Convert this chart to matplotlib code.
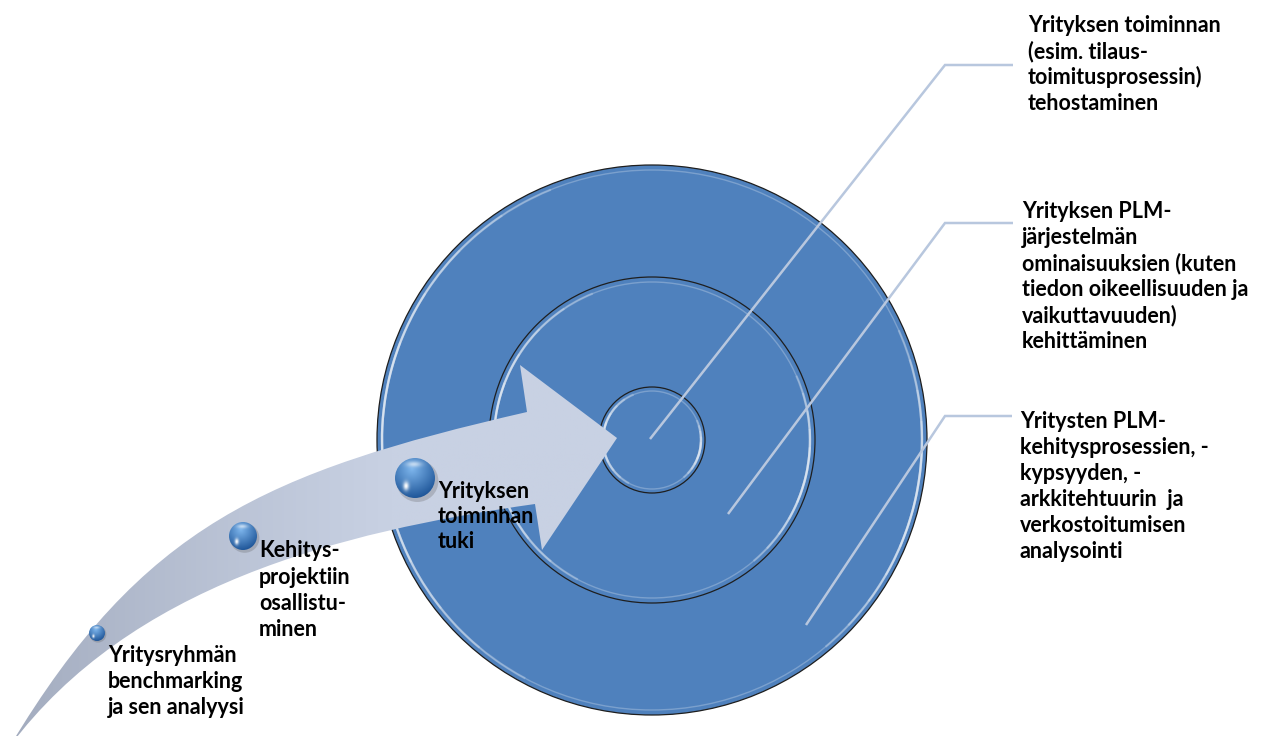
import numpy as np
import matplotlib
matplotlib.use("Agg")
import matplotlib.pyplot as plt
from matplotlib.path import Path
from matplotlib.patches import PathPatch, Circle, Arc
from matplotlib.colors import to_rgb

# ---- content ----
ring_labels = [
    ["Yrityksen toiminnan", "(esim. tilaus-", "toimitusprosessin)", "tehostaminen"],
    ["Yrityksen PLM-", "järjestelmän", "ominaisuuksien (kuten", "tiedon oikeellisuuden ja",
     "vaikuttavuuden)", "kehittäminen"],
    ["Yritysten PLM-", "kehitysprosessien, -", "kypsyyden, -", "arkkitehtuurin  ja",
     "verkostoitumisen", "analysointi"],
]
step_labels = [
    ["Yritysryhmän", "benchmarking", "ja sen analyysi"],
    ["Kehitys-", "projektiin", "osallistu-", "minen"],
    ["Yrityksen", "toiminhan", "tuki"],
]

# ---- layout (pixel coordinates, y downward) ----
W, H = 1261, 736
center = (652, 440)
ring_radii = [275, 163, 53]
leader_starts = [(650, 439), (728, 514), (806, 625)]
leader_bends = [(945, 65), (945, 223), (945, 416)]
leader_ends_x = [1013, 1013, 1012]
ring_text_x = [1028, 1022, 1020]
ring_text_y0 = [32, 218, 428]
ring_line_h = 26

bubble_xy = [(97, 633), (243, 536), (415, 478)]
bubble_r = [8, 14, 20]
step_text_x = [108, 259, 438]
step_text_y0 = [662, 557, 498]
step_line_h = [26, 26.5, 25]

BLUE = "#4F81BD"
LEADER = "#B8C7DE"
FONT = ["Lato", "DejaVu Sans"]

fig = plt.figure(figsize=(W / 100, H / 100), dpi=100)
ax = fig.add_axes([0, 0, 1, 1])
ax.set_xlim(0, W)
ax.set_ylim(H, 0)
ax.axis("off")

# ---- target rings ----
for r in ring_radii:
    ax.add_patch(Circle(center, r, facecolor=BLUE, edgecolor="#1E1E1E", lw=0.9, zorder=1))
    inset = 5 if r > 100 else 4
    rr = r - inset
    ax.add_patch(Circle(center, rr, facecolor="none", edgecolor="white",
                        lw=1.0, alpha=0.25, zorder=2))
    # bevel highlights with faded ends (visual angles, converted for inverted y)
    for (a1, a2) in [(112, 242), (-50, 24)]:
        span = a2 - a1
        for k in range(5):
            shrink = span * 0.09 * k
            ax.add_patch(Arc(center, 2 * rr, 2 * rr, theta1=-(a2 - shrink), theta2=-(a1 + shrink),
                             color="white", lw=1.7, alpha=0.22, zorder=2))

# ---- leader lines ----
for s, b, ex in zip(leader_starts, leader_bends, leader_ends_x):
    ax.plot([s[0], b[0], ex], [s[1], b[1], b[1]], color=LEADER, lw=1.8,
            solid_capstyle="butt", solid_joinstyle="miter", zorder=3)

# ---- curved arrow ----
up = [(10, 746), (142, 526), (266, 472), (527, 412)]
lo = [(10, 746), (130, 586), (337, 532), (535, 504)]
head = [(520, 365), (617, 438), (542, 550)]
verts = [up[0], up[1], up[2], up[3], head[0], head[1], head[2], lo[3], lo[2], lo[1], lo[0], up[0]]
codes = [Path.MOVETO, Path.CURVE4, Path.CURVE4, Path.CURVE4, Path.LINETO, Path.LINETO,
         Path.LINETO, Path.LINETO, Path.CURVE4, Path.CURVE4, Path.CURVE4, Path.CLOSEPOLY]
arrow_path = Path(verts, codes)
arrow_patch = PathPatch(arrow_path, facecolor="none", edgecolor="none", zorder=4)
ax.add_patch(arrow_patch)

c0 = np.array(to_rgb("#A0A9BC"))
c1 = np.array(to_rgb("#C8D1E3"))
xs = np.linspace(0, 1, 256)
t = np.clip(xs * 1.6, 0, 1) ** 0.8
grad = (c0[None, :] * (1 - t[:, None]) + c1[None, :] * t[:, None])[None, :, :]
grad = np.repeat(grad, 2, axis=0)
im = ax.imshow(grad, extent=(0, 625, 750, 355), origin="upper", aspect="auto",
               interpolation="bilinear", zorder=4)
im.set_clip_path(arrow_patch)

# ---- glossy bubbles ----
def sphere(cx, cy, r):
    n = 80
    u = np.linspace(-1, 1, n)
    X, Y = np.meshgrid(u, u)
    light = np.array(to_rgb("#7DB5EC"))
    dark = np.array(to_rgb("#1D5497"))
    d = np.sqrt((X + 0.15) ** 2 + (Y + 0.45) ** 2) / 1.5
    d = np.clip(d, 0, 1)
    img = light[None, None, :] * (1 - d[..., None]) + dark[None, None, :] * d[..., None]
    spec = np.exp(-(((X + 0.45) ** 2) / 0.02 + ((Y - 0.4) ** 2) / 0.05))
    img = img * (1 - spec[..., None]) + spec[..., None] * 1.0
    top = np.exp(-(((X + 0.05) ** 2) / 0.15 + ((Y + 0.7) ** 2) / 0.02)) * 0.6
    img = img * (1 - top[..., None]) + top[..., None] * 1.0
    img = np.clip(img, 0, 1)
    ax.add_patch(Circle((cx + r * 0.12, cy + r * 0.15), r * 1.05, facecolor="#555555",
                        edgecolor="none", alpha=0.25, zorder=5))
    clip = Circle((cx, cy), r, facecolor="none", edgecolor="none", zorder=6)
    ax.add_patch(clip)
    sim = ax.imshow(img, extent=(cx - r, cx + r, cy + r, cy - r), origin="upper",
                    aspect="auto", interpolation="bilinear", zorder=6)
    sim.set_clip_path(clip)

for (bx, by), br in zip(bubble_xy, bubble_r):
    sphere(bx, by, br)

# ---- texts ----
fs = 15.5
for lines, x0, y0 in zip(ring_labels, ring_text_x, ring_text_y0):
    for i, line in enumerate(lines):
        ax.text(x0, y0 + i * ring_line_h, line, family=FONT, weight="bold", fontsize=fs,
                color="black", ha="left", va="baseline", zorder=8)

for lines, x0, y0, lh in zip(step_labels, step_text_x, step_text_y0, step_line_h):
    for i, line in enumerate(lines):
        ax.text(x0, y0 + i * lh, line, family=FONT, weight="bold", fontsize=fs,
                color="black", ha="left", va="baseline", zorder=8)

ax.set_xlim(0, W)
ax.set_ylim(H, 0)
fig.savefig("out.png", dpi=100, facecolor="white")
